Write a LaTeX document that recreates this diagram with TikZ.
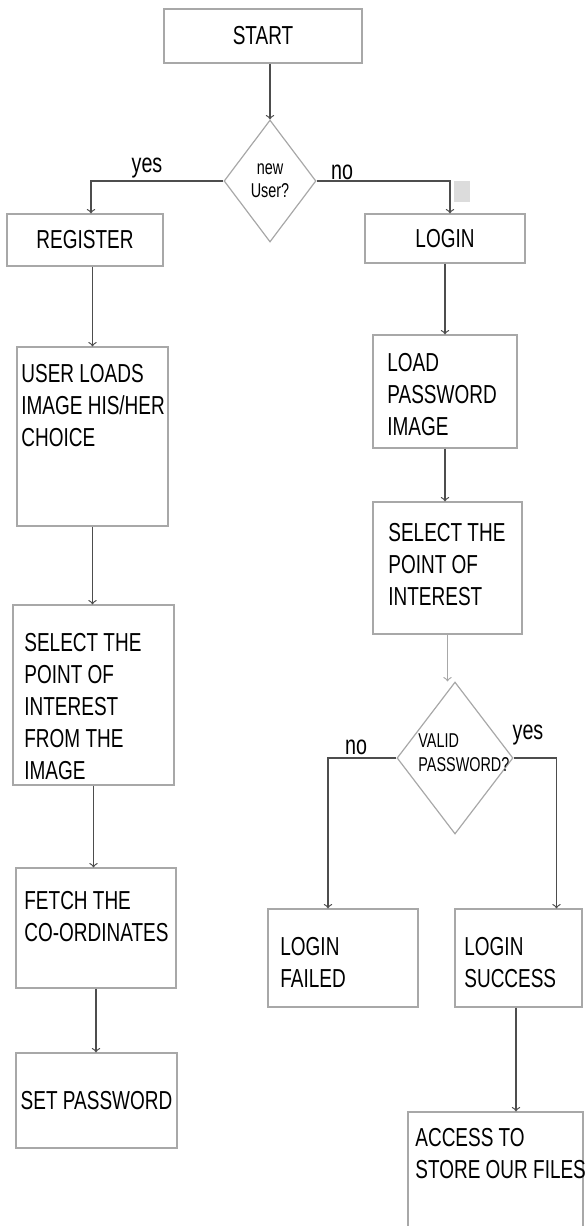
\documentclass[tikz,border=0pt]{standalone}
\usepackage{fontspec}
\setmainfont{Liberation Sans}[FakeStretch=0.73]
\newfontfamily\askfont{Liberation Sans}[FakeStretch=0.72]
\usetikzlibrary{shapes.geometric}

\definecolor{boxgray}{HTML}{A8A8A8}
\definecolor{linegray}{HTML}{4D4D4D}
\definecolor{patchgray}{HTML}{DCDCDC}

\begin{document}
\begin{tikzpicture}[x=0.5pt,y=-0.5pt,>=to,
    box/.style={draw=boxgray,line width=0.6pt,inner sep=0pt,font=\fontsize{13}{16}\selectfont},
    boxtext/.style={anchor=north west,inner sep=0pt,align=left,font=\fontsize{13}{16}\selectfont},
    decision/.style={diamond,draw=boxgray,line width=0.6pt,inner sep=0pt,align=center,font=\askfont\fontsize{10}{11.5}\selectfont},
    decisiontext/.style={anchor=north west,inner sep=0pt,align=left,font=\askfont\fontsize{10}{12}\selectfont},
    answer/.style={inner sep=0pt,font=\fontsize{13.5}{14}\selectfont},
    arr/.style={->,draw=linegray,line width=0.6pt}]
                \clip (0,0) rectangle (584,1226);
                % top and the first question
                \node[box,minimum width=99pt,minimum height=27pt] (start) at (263,36) {START};
                \node[decision,minimum width=46pt,minimum height=61pt] (newuser) at (270,181) {new\\User?};
                \node[box,minimum width=78pt,minimum height=26pt] (register) at (85,240) {REGISTER};
                \node[box,minimum width=80pt,minimum height=24.5pt] (login) at (445,238.5) {LOGIN};
                \fill[patchgray] (454,181) rectangle (470,202);
                \node[answer] (yesnew) at (147,168) {yes};
                \node[answer] (nonew) at (342,172) {no};
                % register column
                \node[box,minimum width=75.5pt,minimum height=89.5pt] (userload) at (92.5,436.5) {};
                \node[boxtext] (userloadtxt) at (21,363.5) {USER LOADS\\IMAGE HIS/HER\\CHOICE};
                \node[box,minimum width=80.5pt,minimum height=90pt] (selreg) at (93.5,695) {};
                \node[boxtext] (selregtxt) at (24,632.5) {SELECT THE\\POINT OF\\INTEREST\\FROM THE\\IMAGE};
                \node[box,minimum width=80pt,minimum height=60pt] (fetch) at (96,928) {};
                \node[boxtext] (fetchtxt) at (24,890.5) {FETCH THE\\CO-ORDINATES};
                \node[box,minimum width=80.5pt,minimum height=47.5pt] (setpw) at (96.5,1100.5) {SET PASSWORD};
                % login column
                \node[box,minimum width=72pt,minimum height=56.5pt] (loadpw) at (445,391.5) {};
                \node[boxtext] (loadpwtxt) at (387,352.5) {LOAD\\PASSWORD\\IMAGE};
                \node[box,minimum width=74.5pt,minimum height=66pt] (sellog) at (447.5,568) {};
                \node[boxtext] (sellogtxt) at (388,522.5) {SELECT THE\\POINT OF\\INTEREST};
                \node[decision,minimum width=58pt,minimum height=76pt] (valid) at (455,758) {};
                \node[decisiontext] (validtxt) at (418,733.5) {VALID\\PASSWORD?};
                \node[answer] (novalid) at (356,747) {no};
                \node[answer] (yesvalid) at (528,735) {yes};
                \node[box,minimum width=75pt,minimum height=49pt] (failed) at (343,958) {};
                \node[boxtext] (failedtxt) at (280,936.5) {LOGIN\\FAILED};
                \node[box,minimum width=63.5pt,minimum height=49pt] (success) at (518.5,958) {};
                \node[boxtext] (successtxt) at (464,936.5) {LOGIN\\SUCCESS};
                \node[box,minimum width=87.5pt,minimum height=64pt] (access) at (495.5,1176) {};
                \node[boxtext] (accesstxt) at (415,1127.5) {ACCESS TO\\STORE OUR FILES};
                % connectors
                \draw[arr] (newuser.north |- start.south) -- (newuser.north);
                \draw[arr] (newuser.west) -| ([xshift=3pt]register.north);
                \draw[arr] (newuser.east) -| ([xshift=2.5pt]login.north);
                \draw[arr] (register.south -| userload.north) -- (userload.north);
                \draw[arr] (userload.south) -- (userload.south |- selreg.north);
                \draw[arr] (selreg.south) -- (selreg.south |- fetch.north);
                \draw[arr] (fetch.south) -- (fetch.south |- setpw.north);
                \draw[arr] (login.south) -- (login.south |- loadpw.north);
                \draw[arr] (loadpw.south) -- (loadpw.south |- sellog.north);
                \draw[arr,draw=boxgray] (sellog.south) -- (sellog.south |- valid.north);
                \draw[arr] (valid.west) -| ([xshift=-7.5pt]failed.north);
                \draw[arr] (valid.east) -| ([xshift=19pt]success.north);
                \draw[arr] ([xshift=-1.25pt]success.south) -- ([xshift=-1.25pt]success.south |- access.north);
            \end{tikzpicture}
\end{document}
